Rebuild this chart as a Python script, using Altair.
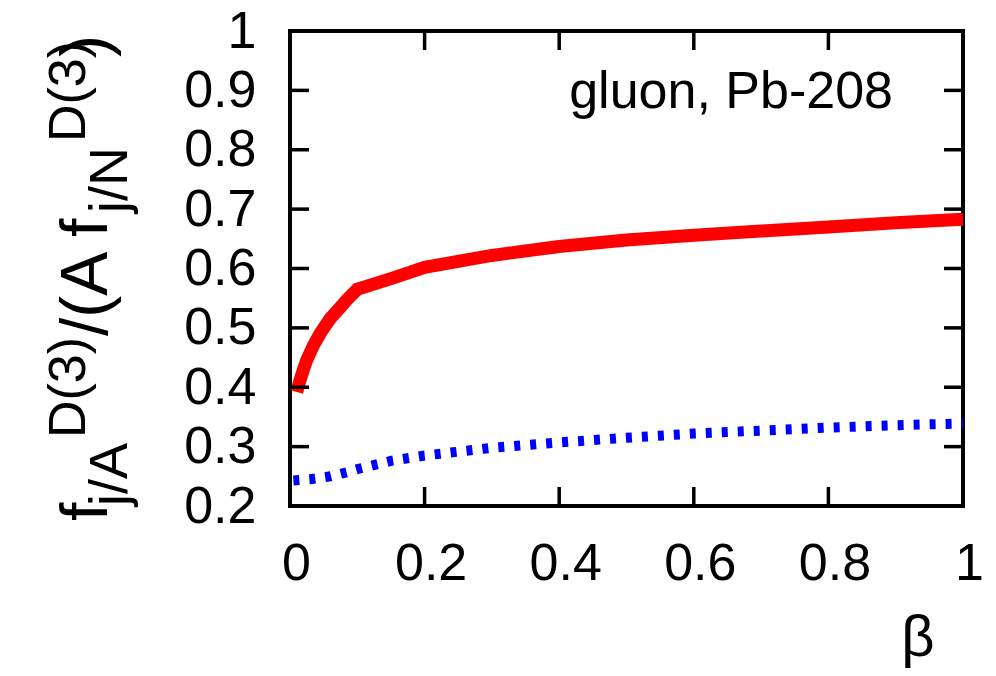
import altair as alt
import pandas as pd

# ---- data ----
red_beta = [0.01, 0.015, 0.02, 0.025, 0.035, 0.045, 0.06, 0.075, 0.085, 0.1, 0.15, 0.2, 0.3, 0.4, 0.5, 0.6, 0.7, 0.8, 0.9, 1.0]
red_val = [0.392, 0.412, 0.43, 0.446, 0.471, 0.491, 0.516, 0.535, 0.548, 0.565, 0.583, 0.602, 0.622, 0.637, 0.648, 0.656, 0.663, 0.670, 0.677, 0.683]

blue_beta = [0.005, 0.03, 0.06, 0.085, 0.1, 0.15, 0.2, 0.3, 0.4, 0.5, 0.6, 0.7, 0.8, 0.9, 1.0]
blue_val = [0.243, 0.245, 0.25, 0.257, 0.262, 0.276, 0.285, 0.298, 0.307, 0.315, 0.322, 0.327, 0.332, 0.336, 0.339]

x_ticks = [0, 0.2, 0.4, 0.6, 0.8, 1]
y_ticks = [0.2, 0.3, 0.4, 0.5, 0.6, 0.7, 0.8, 0.9, 1]
x_inner_ticks = [0.2, 0.4, 0.6, 0.8]
y_inner_ticks = [0.3, 0.4, 0.5, 0.6, 0.7, 0.8, 0.9]

# y-axis title pieces
title_main_1 = "f"
title_sub_1 = "j/A"
title_sup_1 = "D(3)"
title_main_2 = "/(A f"
title_sub_2 = "j/N"
title_sup_2 = "D(3)"
title_main_3 = ")"
panel_label = "gluon, Pb-208"
x_title = "β"

W, H = 673, 475
FONT = "Liberation Sans"

red_df = pd.DataFrame({"beta": red_beta, "val": red_val})
blue_df = pd.DataFrame({"beta": blue_beta, "val": blue_val})
xt_df = pd.DataFrame({"t": x_inner_ticks})
yt_df = pd.DataFrame({"t": y_inner_ticks})

xscale = alt.Scale(domain=[0, 1], nice=False, zero=False)
yscale = alt.Scale(domain=[0.2, 1], nice=False, zero=False)

xaxis = alt.Axis(values=x_ticks, format="~g", grid=False, domain=False, ticks=False, tickSize=0,
                 labelFont=FONT, labelFontSize=52, labelColor="black", labelPadding=32,
                 labelOffset=6, labelFlush=False, labelOverlap=False, title=None)
yaxis = alt.Axis(values=y_ticks, format="~g", grid=False, domain=False, ticks=False, tickSize=0,
                 labelFont=FONT, labelFontSize=52, labelColor="black", labelPadding=34,
                 labelFlush=False, labelOverlap=False, title=None)

red = alt.Chart(red_df).mark_line(color="#ff0000", strokeWidth=13, clip=True).encode(
    x=alt.X("beta:Q", scale=xscale, axis=xaxis),
    y=alt.Y("val:Q", scale=yscale, axis=yaxis),
)
blue = alt.Chart(blue_df).mark_line(color="#0000ff", strokeWidth=10, strokeDash=[6, 10], clip=True).encode(
    x=alt.X("beta:Q", scale=xscale),
    y=alt.Y("val:Q", scale=yscale),
)

tick_style = dict(color="black", strokeWidth=3.5)
xt_bottom = alt.Chart(xt_df).mark_rule(**tick_style).encode(
    x=alt.X("t:Q", scale=xscale), y=alt.value(H), y2=alt.value(H - 19))
xt_top = alt.Chart(xt_df).mark_rule(**tick_style).encode(
    x=alt.X("t:Q", scale=xscale), y=alt.value(0), y2=alt.value(19))
yt_left = alt.Chart(yt_df).mark_rule(**tick_style).encode(
    y=alt.Y("t:Q", scale=yscale), x=alt.value(0), x2=alt.value(19))
yt_right = alt.Chart(yt_df).mark_rule(**tick_style).encode(
    y=alt.Y("t:Q", scale=yscale), x=alt.value(W), x2=alt.value(W - 19))


def vtext(txt, size, px, py):
    # rotated text piece; px, py are page coordinates of the baseline start
    return alt.Chart(pd.DataFrame({"s": [txt]})).mark_text(
        angle=270, align="left", baseline="alphabetic", font=FONT, fontSize=size, color="black"
    ).encode(text="s:N", x=alt.value(px - 290), y=alt.value(py - 31))


ytitle = [
    vtext(title_main_1, 66, 107, 521),
    vtext(title_sub_1, 54, 127, 506),
    vtext(title_sup_1, 52, 85, 438),
    vtext(title_main_2, 66, 107, 336),
    vtext(title_sub_2, 54, 127, 213),
    vtext(title_sup_2, 52, 85, 142),
    vtext(title_main_3, 66, 107, 57),
]

label = alt.Chart(pd.DataFrame({"s": [panel_label]})).mark_text(
    align="right", baseline="alphabetic", font=FONT, fontSize=52, color="black"
).encode(text="s:N", x=alt.value(893 - 290), y=alt.value(108 - 31))

xlab = alt.Chart(pd.DataFrame({"s": [x_title]})).mark_text(
    align="center", baseline="alphabetic", font=FONT, fontSize=58, color="black"
).encode(text="s:N", x=alt.value(918 - 290), y=alt.value(656 - 31))

chart = alt.layer(
    red, blue, xt_bottom, xt_top, yt_left, yt_right, label, xlab, *ytitle
).properties(
    width=W, height=H,
    background="white",
    autosize=alt.AutoSizeParams(type="none"),
    padding={"left": 290, "top": 31, "right": 33, "bottom": 170},
).configure_view(
    stroke="black", strokeWidth=4
)

chart.save("out.html", embed_options={"renderer": "svg", "actions": False})
